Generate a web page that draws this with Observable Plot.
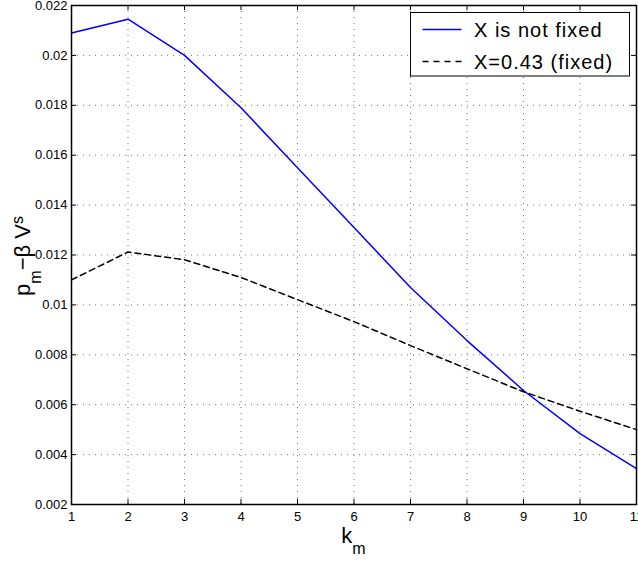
<!DOCTYPE html>
<html>
<head>
<meta charset="utf-8">
<script src="https://cdn.jsdelivr.net/npm/d3@7"></script>
<script src="https://cdn.jsdelivr.net/npm/@observablehq/plot@0.6"></script>
<style>
  html, body { margin: 0; padding: 0; background: #fff; overflow: hidden; }
  #chart svg { display: block; }
</style>
</head>
<body>
<div id="chart"></div>
<script>
// ---- data ----
const kValues = [1, 2, 3, 4, 5, 6, 7, 8, 9, 10, 11];
const notFixedValues = [0.0209, 0.02145, 0.0200, 0.0179, 0.0155, 0.0131, 0.0107, 0.00857, 0.00657, 0.00484, 0.00344];
const fixedValues = [0.0110, 0.01212, 0.01181, 0.0111, 0.01021, 0.00933, 0.00837, 0.00744, 0.00652, 0.00574, 0.0050];
const seriesNames = ["X is not fixed", "X=0.43 (fixed)"];
const xTicks = [1, 2, 3, 4, 5, 6, 7, 8, 9, 10, 11];
const yTicks = [0.002, 0.004, 0.006, 0.008, 0.01, 0.012, 0.014, 0.016, 0.018, 0.02, 0.022];
const yTickLabels = ["0.002", "0.004", "0.006", "0.008", "0.01", "0.012", "0.014", "0.016", "0.018", "0.02", "0.022"];

// ---- layout ----
const W = 638, H = 562;
const mL = 71, mR = 2, mT = 5, mB = 58;
const plotW = W - mL - mR, plotH = H - mT - mB;
const tickLen = 5;
const FONT = "'Liberation Sans', Arial, Helvetica, sans-serif";

const rowsNotFixed = kValues.map((k, i) => ({k, v: notFixedValues[i], s: seriesNames[0]}));
const rowsFixed = kValues.map((k, i) => ({k, v: fixedValues[i], s: seriesNames[1]}));

const svg = Plot.plot({
  width: W, height: H,
  marginLeft: mL, marginRight: mR, marginTop: mT, marginBottom: mB,
  style: {fontFamily: FONT, fontSize: "13px", background: "white", color: "black", overflow: "visible"},
  x: {type: "linear", domain: [1, 11], label: null},
  y: {type: "linear", domain: [0.002, 0.022], label: null},
  marks: [
    Plot.gridX(xTicks, {stroke: "#777", strokeOpacity: 1, strokeWidth: 1, strokeDasharray: "1,5"}),
    Plot.gridY(yTicks, {stroke: "#777", strokeOpacity: 1, strokeWidth: 1, strokeDasharray: "1,5"}),
    // inward ticks on all four sides
    Plot.tickX(xTicks, {x: d => d, insetTop: plotH - tickLen, stroke: "black"}),
    Plot.tickX(xTicks, {x: d => d, insetBottom: plotH - tickLen, stroke: "black"}),
    Plot.tickY(yTicks, {y: d => d, insetRight: plotW - tickLen, stroke: "black"}),
    Plot.tickY(yTicks, {y: d => d, insetLeft: plotW - tickLen, stroke: "black"}),
    Plot.axisX(xTicks, {tickSize: 0, tickPadding: 7, fontSize: 13, label: null, tickFormat: d => String(d)}),
    Plot.axisY(yTicks, {tickSize: 0, tickPadding: 4, fontSize: 13, label: null,
      tickFormat: d => yTickLabels[yTicks.indexOf(d)]}),
    Plot.line(rowsNotFixed, {x: "k", y: "v", stroke: "#0000ff", strokeWidth: 1.5}),
    Plot.line(rowsFixed, {x: "k", y: "v", stroke: "black", strokeWidth: 1.5, strokeDasharray: "6,4"}),
    Plot.frame({stroke: "black", strokeWidth: 1.5})
  ]
});

document.getElementById("chart").appendChild(svg);

// ---- labels and legend (text added to the Plot SVG) ----
const s = d3.select(svg);

// y label: p_m − β V^s
const yl = s.append("text")
  .attr("transform", "translate(30,256) rotate(-90)")
  .attr("text-anchor", "middle")
  .attr("font-family", FONT)
  .attr("font-size", 22)
  .attr("fill", "black");
yl.append("tspan").text("p");
yl.append("tspan").attr("font-size", 16).attr("dy", 11).text("m");
yl.append("tspan").attr("dy", -11).text("\u2212\u03B2 V");
yl.append("tspan").attr("font-size", 16).attr("dy", -7).text("s");

// x label: k_m
const xl = s.append("text")
  .attr("x", mL + plotW / 2)
  .attr("y", 543)
  .attr("text-anchor", "middle")
  .attr("font-family", FONT)
  .attr("font-size", 22)
  .attr("fill", "black");
xl.append("tspan").text("k");
xl.append("tspan").attr("font-size", 16).attr("dy", 11).text("m");

// legend
const lg = s.append("g").attr("font-family", FONT).attr("font-size", 20).attr("text-anchor", "start");
lg.append("rect").attr("x", 410.5).attr("y", 12.5).attr("width", 219).attr("height", 63.5)
  .attr("fill", "white").attr("stroke", "black").attr("stroke-width", 1);
lg.append("line").attr("x1", 422.5).attr("x2", 461.5).attr("y1", 29.5).attr("y2", 29.5)
  .attr("stroke", "#0000ff").attr("stroke-width", 1.5);
lg.append("line").attr("x1", 422.5).attr("x2", 461.5).attr("y1", 61.5).attr("y2", 61.5)
  .attr("stroke", "black").attr("stroke-width", 1.5).attr("stroke-dasharray", "6,5");
lg.append("text").attr("x", 474).attr("y", 36.5).attr("text-anchor", "start").attr("letter-spacing", 1).attr("fill", "black").text(seriesNames[0]);
lg.append("text").attr("x", 474).attr("y", 68.5).attr("text-anchor", "start").attr("letter-spacing", 1).attr("fill", "black").text(seriesNames[1]);
</script>
</body>
</html>
